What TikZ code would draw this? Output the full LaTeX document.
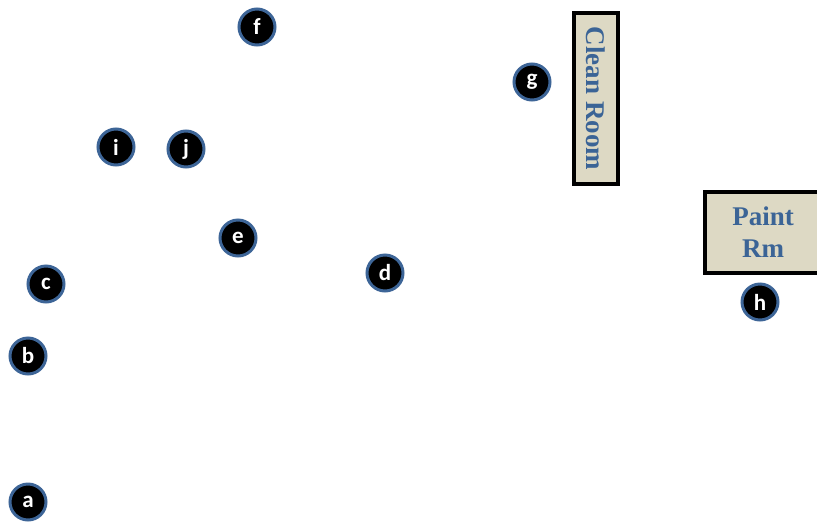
\documentclass[tikz,border=0pt]{standalone}
\usepackage{fontspec}
\setmainfont{Liberation Serif}
\newfontfamily\lblfont{Carlito}
\definecolor{ringblue}{HTML}{3D6597}
\definecolor{boxfill}{HTML}{DDD9C4}
\definecolor{txtblue}{HTML}{3B6496}
\begin{document}
\begin{tikzpicture}[x=1pt,y=-1pt,
  marker/.style={circle,fill=black,draw=ringblue,line width=3pt,minimum size=36pt,inner sep=0pt,
    text=white,font=\lblfont\bfseries\fontsize{23}{23}\selectfont},
  room/.style={draw=black,line width=3.5pt,fill=boxfill,text=txtblue,inner sep=0pt,
    font=\bfseries\fontsize{27}{32}\selectfont,align=center}]
\useasboundingbox (0,0) rectangle (817,523);
\begin{scope}
\clip (0,0) rectangle (817,523);
\node[room,minimum width=171pt,minimum height=44pt,rotate=-90] (clean) at (596,98.5) {Clean Room};
\node[room,minimum width=116pt,minimum height=81pt] (paint) at (763,232.5) {Paint\\Rm};
\end{scope}
\node[marker] (f) at (257,27) {f};
\node[marker] (g) at (532,82) {g};
\node[marker] (i) at (116,147) {i};
\node[marker] (j) at (186,149) {j};
\node[marker] (e) at (238,238) {e};
\node[marker] (d) at (385,273) {d};
\node[marker] (c) at (46,284) {c};
\node[marker] (b) at (28,356) {b};
\node[marker] (a) at (28,502) {a};
\node[marker] (h) at (760,302) {h};
\end{tikzpicture}
\end{document}
